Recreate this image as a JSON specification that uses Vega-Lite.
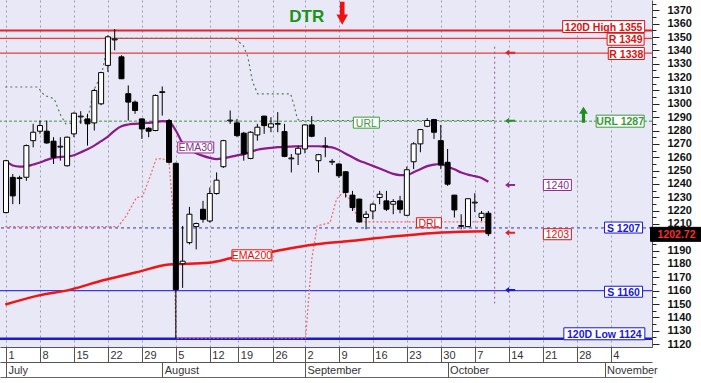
{
  "$schema": "https://vega.github.io/schema/vega-lite/v6.json",
  "width": 652,
  "height": 347,
  "autosize": {"type": "none"},
  "padding": {"left": 0, "top": 0, "right": 49, "bottom": 36},
  "background": "white",
  "config": {"view": {"fill": "#E8E8F6", "stroke": null}, "font": "Liberation Sans"},
  "datasets": {
    "candles": [
      {"i":0,"o":1218.5,"h":1258,"l":1218,"c":1257.4},
      {"i":1,"o":1244.9,"h":1247.4,"l":1224.8,"c":1231.0},
      {"i":2,"o":1244.0,"h":1246.1,"l":1224.8,"c":1244.6},
      {"i":3,"o":1245,"h":1269.5,"l":1242.3,"c":1268.7},
      {"i":4,"o":1272.4,"h":1285,"l":1267.4,"c":1278.7},
      {"i":5,"o":1279.5,"h":1287.5,"l":1277.5,"c":1283.7},
      {"i":6,"o":1279.5,"h":1287.5,"l":1270,"c":1270.7},
      {"i":7,"o":1272,"h":1275,"l":1254.9,"c":1260},
      {"i":8,"o":1267.6,"h":1275,"l":1257.4,"c":1268.2},
      {"i":9,"o":1253.6,"h":1275.5,"l":1253,"c":1275},
      {"i":10,"o":1277.5,"h":1293.5,"l":1275,"c":1293},
      {"i":11,"o":1290.2,"h":1294.5,"l":1285,"c":1290.8},
      {"i":12,"o":1288.7,"h":1292.5,"l":1268.7,"c":1285},
      {"i":13,"o":1285.7,"h":1311.3,"l":1280,"c":1310},
      {"i":14,"o":1300,"h":1324,"l":1299,"c":1323.4},
      {"i":15,"o":1328.8,"h":1351.4,"l":1323.9,"c":1350.2},
      {"i":16,"o":1347.9,"h":1356,"l":1340.1,"c":1348.5},
      {"i":17,"o":1335.2,"h":1336.4,"l":1318.5,"c":1318.8},
      {"i":18,"o":1307.6,"h":1313.8,"l":1287.5,"c":1301.3},
      {"i":19,"o":1301.3,"h":1302.5,"l":1292.5,"c":1295},
      {"i":20,"o":1288.7,"h":1289,"l":1273.7,"c":1281.2},
      {"i":21,"o":1281.7,"h":1282.5,"l":1275,"c":1279.5},
      {"i":22,"o":1280,"h":1307,"l":1279.5,"c":1306.3},
      {"i":23,"o":1308.5,"h":1313,"l":1291.2,"c":1309.1},
      {"i":24,"o":1287.5,"h":1288.7,"l":1255.5,"c":1256.2},
      {"i":25,"o":1255.4,"h":1256,"l":1124.5,"c":1160.8},
      {"i":26,"o":1180.2,"h":1208.5,"l":1162.1,"c":1182.1},
      {"i":27,"o":1196,"h":1222.8,"l":1194.7,"c":1217.3},
      {"i":28,"o":1208,"h":1211,"l":1190.9,"c":1210.3},
      {"i":29,"o":1221,"h":1227.3,"l":1211,"c":1213.5},
      {"i":30,"o":1212.2,"h":1237.3,"l":1211,"c":1232.8},
      {"i":31,"o":1232.8,"h":1248.6,"l":1232,"c":1242.8},
      {"i":32,"o":1252.9,"h":1273,"l":1252,"c":1272.4},
      {"i":33,"o":1287.2,"h":1295,"l":1285,"c":1287.8},
      {"i":34,"o":1285.7,"h":1288.7,"l":1275,"c":1276.2},
      {"i":35,"o":1278,"h":1279,"l":1257.4,"c":1262.4},
      {"i":36,"o":1259.1,"h":1279.5,"l":1258.5,"c":1278.7},
      {"i":37,"o":1276.7,"h":1285,"l":1272.4,"c":1282.5},
      {"i":38,"o":1290.8,"h":1291,"l":1277.5,"c":1283.7},
      {"i":39,"o":1282.5,"h":1290,"l":1278.7,"c":1285},
      {"i":40,"o":1284.7,"h":1293.8,"l":1278.7,"c":1285.3},
      {"i":41,"o":1279.2,"h":1285,"l":1260,"c":1260.6},
      {"i":42,"o":1258.8,"h":1262.4,"l":1248.6,"c":1259.4},
      {"i":43,"o":1262.4,"h":1268.7,"l":1254.1,"c":1266.7},
      {"i":44,"o":1266.2,"h":1284.5,"l":1263,"c":1284.2},
      {"i":45,"o":1284.2,"h":1290.8,"l":1275,"c":1275.7},
      {"i":46,"o":1257.4,"h":1262.5,"l":1248.6,"c":1261.9},
      {"i":47,"o":1267.9,"h":1275,"l":1260,"c":1268.5},
      {"i":48,"o":1256.3,"h":1258.6,"l":1254.1,"c":1256.9},
      {"i":49,"o":1254.9,"h":1255.5,"l":1244.5,"c":1246.1},
      {"i":50,"o":1249.1,"h":1249.5,"l":1229.8,"c":1233.6},
      {"i":51,"o":1231.6,"h":1234.8,"l":1219.7,"c":1222.3},
      {"i":52,"o":1228.6,"h":1229,"l":1211,"c":1211.5},
      {"i":53,"o":1214.8,"h":1219.7,"l":1206,"c":1217.3},
      {"i":54,"o":1219.7,"h":1226,"l":1213.5,"c":1224.8},
      {"i":55,"o":1229.8,"h":1234.8,"l":1224.8,"c":1232.3},
      {"i":56,"o":1227.3,"h":1234.8,"l":1219.7,"c":1221},
      {"i":57,"o":1224.8,"h":1228.6,"l":1217.3,"c":1226.8},
      {"i":58,"o":1227.3,"h":1231,"l":1218,"c":1221},
      {"i":59,"o":1216.5,"h":1253,"l":1216,"c":1250.6},
      {"i":60,"o":1256.6,"h":1271.2,"l":1251.1,"c":1270},
      {"i":61,"o":1270,"h":1281.2,"l":1263.7,"c":1280.7},
      {"i":62,"o":1283.2,"h":1289.3,"l":1282.5,"c":1287.5},
      {"i":63,"o":1288.2,"h":1288.7,"l":1273.7,"c":1278.7},
      {"i":64,"o":1272.4,"h":1284.2,"l":1251.1,"c":1254.1},
      {"i":65,"o":1256.2,"h":1266.2,"l":1238.6,"c":1239.8},
      {"i":66,"o":1231.6,"h":1231.6,"l":1214.8,"c":1220.5},
      {"i":67,"o":1208.2,"h":1217.3,"l":1206,"c":1208.8},
      {"i":68,"o":1208,"h":1229,"l":1207.5,"c":1228.9},
      {"i":69,"o":1225.7,"h":1233,"l":1219,"c":1226.3},
      {"i":70,"o":1214.8,"h":1219.7,"l":1212.2,"c":1218},
      {"i":71,"o":1218,"h":1219.7,"l":1200.9,"c":1202.72}
    ],
    "ema30": [
      {"i":-0.1,"v":1257.4},{"i":1,"v":1253.8},{"i":2,"v":1253.0},{"i":3,"v":1253.2},{"i":4,"v":1254.5},
      {"i":5,"v":1256},{"i":6,"v":1258},{"i":7,"v":1259.5},{"i":8,"v":1260.2},{"i":9,"v":1260.5},
      {"i":10,"v":1261.5},{"i":11,"v":1263.7},{"i":12,"v":1266},{"i":13,"v":1268.7},{"i":14,"v":1272},
      {"i":15,"v":1275.5},{"i":16,"v":1280},{"i":17,"v":1283.2},{"i":18,"v":1284.5},{"i":19,"v":1285},
      {"i":20,"v":1285.3},{"i":21,"v":1285.8},{"i":22,"v":1286.3},{"i":23,"v":1287},{"i":24,"v":1286.5},
      {"i":25,"v":1280},{"i":26,"v":1270.5},{"i":27,"v":1266},{"i":28,"v":1263},{"i":29,"v":1261},
      {"i":30,"v":1259.5},{"i":31,"v":1258.6},{"i":32,"v":1259.2},{"i":33,"v":1260.3},{"i":34,"v":1261.4},
      {"i":35,"v":1262.3},{"i":36,"v":1264},{"i":37,"v":1265.6},{"i":38,"v":1266.5},{"i":39,"v":1267},
      {"i":40,"v":1267.5},{"i":41,"v":1267.8},{"i":42,"v":1268},{"i":43,"v":1268.2},{"i":44,"v":1268.2},
      {"i":45,"v":1268.2},{"i":46,"v":1268.2},{"i":47,"v":1267.9},{"i":48,"v":1267.4},{"i":49,"v":1265.5},
      {"i":50,"v":1262.6},{"i":51,"v":1260},{"i":52,"v":1257.4},{"i":53,"v":1255.5},{"i":54,"v":1253.5},
      {"i":55,"v":1251.5},{"i":56,"v":1249.5},{"i":57,"v":1247.5},{"i":58,"v":1246.6},{"i":59,"v":1246.6},
      {"i":60,"v":1248.8},{"i":61,"v":1251},{"i":62,"v":1253.3},{"i":63,"v":1254.5},{"i":64,"v":1254.9},
      {"i":65,"v":1253},{"i":66,"v":1251},{"i":67,"v":1248.5},{"i":68,"v":1247},{"i":69,"v":1245.8},
      {"i":70,"v":1244.5},{"i":71,"v":1241.6}
    ],
    "ema200": [
      {"i":-0.1,"v":1149.6},{"i":4.7,"v":1156.3},{"i":9.5,"v":1160.8},{"i":14.3,"v":1167.8},{"i":19.2,"v":1173.8},
      {"i":24,"v":1179.6},{"i":29.8,"v":1180.9},{"i":33.7,"v":1185},{"i":38.5,"v":1188.5},{"i":44.3,"v":1193.9},
      {"i":50.6,"v":1197.2},{"i":57.8,"v":1200.9},{"i":64.1,"v":1203.5},{"i":70.9,"v":1204.5}
    ],
    "upper": [
      {"i":-0.1,"v":1312.6},{"i":4.68,"v":1312.6},{"i":5.65,"v":1306.3},{"i":7.1,"v":1303.8},{"i":8.07,"v":1291.2},
      {"i":8.8,"v":1285},{"i":11.4,"v":1286.5},{"i":12.2,"v":1292.5},{"i":12.9,"v":1310},{"i":14.1,"v":1322.6},
      {"i":14.6,"v":1335.2},{"i":14.93,"v":1349},{"i":33.6,"v":1349},{"i":34.9,"v":1343.9},{"i":35.6,"v":1335.2},
      {"i":36.3,"v":1316.4},{"i":37.05,"v":1307.5},{"i":41.9,"v":1307.5},{"i":42.4,"v":1298.8},{"i":42.9,"v":1288.7},
      {"i":43.2,"v":1287.5},{"i":71.9,"v":1287.5}
    ],
    "lower": [
      {"i":-0.1,"v":1208},{"i":16.5,"v":1208},{"i":17.7,"v":1216},{"i":19.2,"v":1229.8},{"i":20.1,"v":1230.6},
      {"i":21.1,"v":1244},{"i":22.1,"v":1258.6},{"i":23.0,"v":1259.1},{"i":24.0,"v":1256},{"i":24.5,"v":1225},
      {"i":24.8,"v":1185},{"i":25.0,"v":1124.5},{"i":44.1,"v":1124.5},{"i":45.0,"v":1183.4},{"i":45.8,"v":1208.5},
      {"i":47.7,"v":1211},{"i":48.65,"v":1228.6},{"i":49.6,"v":1233.6},{"i":50.6,"v":1228.6},{"i":52.0,"v":1211.5},
      {"i":71.6,"v":1211.5}
    ],
    "labels": [
      {"label":"120D High 1355","i":87.97,"p":1357.9},
      {"label":"R 1349","i":91.2,"p":1348.4},
      {"label":"R 1338","i":91.3,"p":1337.7},
      {"label":"URL 1287","i":90.4,"p":1287.0},
      {"label":"S 1207","i":90.9,"p":1207.3},
      {"label":"S 1160","i":90.9,"p":1159.2},
      {"label":"120D Low 1124","i":88.07,"p":1127.7},
      {"label":"EMA30","i":27.93,"p":1267.3},
      {"label":"EMA200","i":36.2,"p":1186.5},
      {"label":"URL","i":53.04,"p":1285.9},
      {"label":"DRL","i":62.25,"p":1210.9},
      {"label":"1240","i":81.16,"p":1239.2},
      {"label":"1203","i":81.16,"p":1202.3},
      {"label":"1202.72","i":98.7,"p":1202.2}
    ],
    "arrows": [
      {"name":"R 1338","i":74.2,"p":1338.3},
      {"name":"URL 1287","i":74.2,"p":1287.4},
      {"name":"EMA30 1240","i":74.2,"p":1239.2},
      {"name":"EMA200 1203","i":74.2,"p":1203.4},
      {"name":"S 1160","i":74.2,"p":1160.5}
    ]
  },
  "resolve": {
    "scale": {"color": "independent", "shape": "independent", "stroke": "independent"},
    "axis": {"x": "independent", "y": "independent"}
  },
  "layer": [
    {
      "data": {"values": [{"p": 1355}]},
      "mark": {"type": "rule", "color": "#E8202A", "strokeWidth": 2},
      "encoding": {
        "y": {"field": "p", "type": "quantitative",
          "scale": {"domain": [1117.8, 1377.8], "nice": false, "zero": false},
          "axis": {"orient": "right", "values": [1120,1130,1140,1150,1160,1170,1180,1190,1200,1210,1220,1230,1240,1250,1260,1270,1280,1290,1300,1310,1320,1330,1340,1350,1360,1370],
            "format": "d", "labelExpr": "datum.value === 1200 ? '' : datum.label",
            "title": null, "grid": false, "tickSize": 7, "labelPadding": 8, "tickColor": "#222", "domainColor": "#555",
            "labelFontWeight": "bold", "labelFontSize": 11, "labelColor": "#111", "labelOverlap": false, "labelFlush": false, "labelFont": "Liberation Sans"}}
      }
    },
    {
      "data": {"values": [{"p": 1349}, {"p": 1338}]},
      "mark": {"type": "rule", "color": "#F03A3A", "strokeWidth": 1.2},
      "encoding": {"y": {"field": "p", "type": "quantitative", "scale": {"domain": [1117.8, 1377.8], "nice": false, "zero": false},
        "axis": {"orient": "right", "values": [1125,1135,1145,1155,1165,1175,1185,1195,1205,1215,1225,1235,1245,1255,1265,1275,1285,1295,1305,1315,1325,1335,1345,1355,1365,1375],
          "labels": false, "domain": false, "grid": false, "title": null, "tickSize": 4, "tickColor": "#222"}}}
    },
    {
      "data": {"values": [{"p": 1287}]},
      "mark": {"type": "rule", "color": "#3A9A3A", "strokeWidth": 1, "strokeDash": [3, 2]},
      "encoding": {"y": {"field": "p", "type": "quantitative", "scale": {"domain": [1117.8, 1377.8], "nice": false, "zero": false}, "axis": null}}
    },
    {
      "data": {"values": [{"p": 1207}]},
      "mark": {"type": "rule", "color": "#3030D8", "strokeWidth": 1, "strokeDash": [3, 3]},
      "encoding": {"y": {"field": "p", "type": "quantitative", "scale": {"domain": [1117.8, 1377.8], "nice": false, "zero": false}, "axis": null}}
    },
    {
      "data": {"values": [{"p": 1160}]},
      "mark": {"type": "rule", "color": "#3A3AE8", "strokeWidth": 1.2},
      "encoding": {"y": {"field": "p", "type": "quantitative", "scale": {"domain": [1117.8, 1377.8], "nice": false, "zero": false}, "axis": null}}
    },
    {
      "data": {"values": [{"p": 1124}]},
      "mark": {"type": "rule", "color": "#1A1AD0", "strokeWidth": 2.5},
      "encoding": {"y": {"field": "p", "type": "quantitative", "scale": {"domain": [1117.8, 1377.8], "nice": false, "zero": false}, "axis": null}}
    },
    {
      "data": {"name": "lower"},
      "mark": {"type": "line", "color": "#F06A6A", "strokeWidth": 1.2, "strokeDash": [2, 2]},
      "encoding": {
        "x": {"field": "i", "type": "quantitative", "scale": {"domain": [-0.145, 94.35], "nice": false, "zero": false},
          "axis": {"orient": "bottom", "offset": 30, "values": [], "domain": true, "domainColor": "#666", "ticks": false, "labels": false, "grid": false, "title": null}},
        "y": {"field": "v", "type": "quantitative", "scale": {"domain": [1117.8, 1377.8], "nice": false, "zero": false}, "axis": null}
      }
    },
    {
      "data": {"name": "upper"},
      "mark": {"type": "line", "color": "#5A7A5A", "strokeWidth": 1.2, "strokeDash": [2, 3]},
      "encoding": {
        "x": {"field": "i", "type": "quantitative", "scale": {"domain": [-0.145, 94.35], "nice": false, "zero": false}, "axis": null},
        "y": {"field": "v", "type": "quantitative", "scale": {"domain": [1117.8, 1377.8], "nice": false, "zero": false}, "axis": null}
      }
    },
    {
      "data": {"values": [{"i": 71.93, "p": 1342.8, "p2": 1150.5}]},
      "mark": {"type": "rule", "color": "#9A4A9A", "strokeWidth": 1, "strokeDash": [2, 3]},
      "encoding": {
        "x": {"field": "i", "type": "quantitative", "scale": {"domain": [-0.145, 94.35], "nice": false, "zero": false}, "axis": null},
        "y": {"field": "p", "type": "quantitative", "scale": {"domain": [1117.8, 1377.8], "nice": false, "zero": false}, "axis": null},
        "y2": {"field": "p2"}
      }
    },
    {
      "data": {"name": "ema200"},
      "mark": {"type": "line", "color": "#F01414", "strokeWidth": 2.5, "interpolate": "monotone"},
      "encoding": {
        "x": {"field": "i", "type": "quantitative", "scale": {"domain": [-0.145, 94.35], "nice": false, "zero": false}, "axis": null},
        "y": {"field": "v", "type": "quantitative", "scale": {"domain": [1117.8, 1377.8], "nice": false, "zero": false}, "axis": null}
      }
    },
    {
      "data": {"name": "ema30"},
      "mark": {"type": "line", "color": "#8B1A8B", "strokeWidth": 2.2, "interpolate": "monotone"},
      "encoding": {
        "x": {"field": "i", "type": "quantitative", "scale": {"domain": [-0.145, 94.35], "nice": false, "zero": false}, "axis": null},
        "y": {"field": "v", "type": "quantitative", "scale": {"domain": [1117.8, 1377.8], "nice": false, "zero": false}, "axis": null}
      }
    },
    {
      "data": {"name": "candles"},
      "mark": {"type": "rule", "color": "#000", "strokeWidth": 1},
      "encoding": {
        "x": {"field": "i", "type": "quantitative", "scale": {"domain": [-0.145, 94.35], "nice": false, "zero": false},
          "axis": {"orient": "bottom", "title": null,
            "values": [0,5,10,15,20,25,30,34.2,39.3,44,49,54,59,64,69,74,79,84,89],
            "labelExpr": "['1','8','15','22','29','5','12','19','26','2','9','16','23','30','7','14','21','28','4'][indexof([0,5,10,15,20,25,30,34.2,39.3,44,49,54,59,64,69,74,79,84,89], datum.value)]",
            "grid": true, "gridDash": [2, 3], "gridColor": "#9C9CAE", "gridWidth": 1,
            "tickSize": 15, "tickColor": "#555", "domainColor": "#555",
            "labelAlign": "left", "labelBaseline": "top", "labelPadding": -13, "labelOffset": 2,
            "labelFontSize": 11, "labelColor": "#333", "labelFont": "Liberation Sans", "labelOverlap": false, "labelFlush": false}},
        "y": {"field": "l", "type": "quantitative", "scale": {"domain": [1117.8, 1377.8], "nice": false, "zero": false}, "axis": null},
        "y2": {"field": "h"}
      }
    },
    {
      "data": {"name": "candles"},
      "mark": {"type": "bar", "width": 5, "stroke": "#000", "strokeWidth": 1},
      "encoding": {
        "x": {"field": "i", "type": "quantitative", "scale": {"domain": [-0.145, 94.35], "nice": false, "zero": false},
          "axis": {"orient": "bottom", "offset": 15, "title": null,
            "values": [0, 23, 44, 65, 88.1],
            "labelExpr": "['July','August','September','October','November'][indexof([0,23,44,65,88.1], datum.value)]",
            "grid": false, "tickSize": 15, "tickColor": "#555", "domainColor": "#555",
            "labelAlign": "left", "labelBaseline": "top", "labelPadding": -13, "labelOffset": 2,
            "labelFontSize": 11, "labelColor": "#333", "labelFont": "Liberation Sans", "labelOverlap": false, "labelFlush": false}},
        "y": {"field": "o", "type": "quantitative", "scale": {"domain": [1117.8, 1377.8], "nice": false, "zero": false}, "axis": null},
        "y2": {"field": "c"},
        "fill": {"condition": {"test": "datum.c >= datum.o", "value": "#FFFFFF"}, "value": "#000000"}
      }
    },
    {
      "data": {"name": "labels"},
      "mark": {"type": "point", "filled": true, "size": 10000, "strokeWidth": 1, "opacity": 1},
      "encoding": {
        "x": {"field": "i", "type": "quantitative", "scale": {"domain": [-0.145, 94.35], "nice": false, "zero": false}, "axis": null},
        "y": {"field": "p", "type": "quantitative", "scale": {"domain": [1117.8, 1377.8], "nice": false, "zero": false}, "axis": null},
        "fill": {"condition": {"test": "datum.label === '1202.72'", "value": "#000000"}, "value": "#FFFFFF"},
        "stroke": {"field": "label", "type": "nominal", "legend": null,
          "scale": {"domain": ["120D High 1355","R 1349","R 1338","URL 1287","S 1207","S 1160","120D Low 1124","EMA30","EMA200","URL","DRL","1240","1203","1202.72"],
            "range": ["#E01010","#E01010","#E01010","#3A9A3A","#1818D8","#1818D8","#1818D8","#8E2A8E","#E01010","#3A9A3A","#E01010","#8E2A8E","#E01010","#000000"]}},
        "shape": {"field": "label", "type": "nominal", "legend": null,
          "scale": {"domain": ["120D High 1355","R 1349","R 1338","URL 1287","S 1207","S 1160","120D Low 1124","EMA30","EMA200","URL","DRL","1240","1203","1202.72"],
            "range": [
              "M-0.82,-0.12H0.82V0.12H-0.82Z",
              "M-0.37,-0.12H0.37V0.12H-0.37Z",
              "M-0.36,-0.12H0.36V0.12H-0.36Z",
              "M-0.48,-0.12H0.48V0.12H-0.48Z",
              "M-0.38,-0.11H0.38V0.11H-0.38Z",
              "M-0.38,-0.11H0.38V0.11H-0.38Z",
              "M-0.81,-0.12H0.81V0.12H-0.81Z",
              "M-0.36,-0.11H0.36V0.11H-0.36Z",
              "M-0.40,-0.11H0.40V0.11H-0.40Z",
              "M-0.26,-0.11H0.26V0.11H-0.26Z",
              "M-0.25,-0.10H0.25V0.10H-0.25Z",
              "M-0.28,-0.11H0.28V0.11H-0.28Z",
              "M-0.28,-0.11H0.28V0.11H-0.28Z",
              "M-0.52,-0.14H0.52V0.14H-0.52Z"]}}
      }
    },
    {
      "data": {"name": "labels"},
      "transform": [{"filter": "indexof(['EMA30','EMA200','URL','DRL','1240','1203'], datum.label) < 0"}],
      "mark": {"type": "text", "fontSize": 10.5, "fontWeight": "bold", "align": "center", "baseline": "middle", "dy": 1, "font": "Liberation Sans"},
      "encoding": {
        "x": {"field": "i", "type": "quantitative", "scale": {"domain": [-0.145, 94.35], "nice": false, "zero": false}, "axis": null},
        "y": {"field": "p", "type": "quantitative", "scale": {"domain": [1117.8, 1377.8], "nice": false, "zero": false}, "axis": null},
        "text": {"field": "label"},
        "color": {"field": "label", "type": "nominal", "legend": null,
          "scale": {"domain": ["120D High 1355","R 1349","R 1338","URL 1287","S 1207","S 1160","120D Low 1124","1202.72"],
            "range": ["#E01010","#E01010","#E01010","#3A9A3A","#1818D8","#1818D8","#1818D8","#FF2A2A"]}}
      }
    },
    {
      "data": {"name": "labels"},
      "transform": [{"filter": "indexof(['EMA30','EMA200','URL','DRL','1240','1203'], datum.label) >= 0"}],
      "mark": {"type": "text", "fontSize": 10.5, "align": "center", "baseline": "middle", "dy": 1, "font": "Liberation Sans"},
      "encoding": {
        "x": {"field": "i", "type": "quantitative", "scale": {"domain": [-0.145, 94.35], "nice": false, "zero": false}, "axis": null},
        "y": {"field": "p", "type": "quantitative", "scale": {"domain": [1117.8, 1377.8], "nice": false, "zero": false}, "axis": null},
        "text": {"field": "label"},
        "color": {"field": "label", "type": "nominal", "legend": null,
          "scale": {"domain": ["EMA30","EMA200","URL","DRL","1240","1203"],
            "range": ["#8E2A8E","#E01010","#3A9A3A","#E01010","#8E2A8E","#E01010"]}}
      }
    },
    {
      "data": {"name": "arrows"},
      "mark": {"type": "point", "filled": true, "opacity": 1, "size": 100,
        "shape": "M-1,0L-0.2,-0.6L-0.2,-0.2L1,-0.2L1,0.2L-0.2,0.2L-0.2,0.6Z"},
      "encoding": {
        "x": {"field": "i", "type": "quantitative", "scale": {"domain": [-0.145, 94.35], "nice": false, "zero": false}, "axis": null},
        "y": {"field": "p", "type": "quantitative", "scale": {"domain": [1117.8, 1377.8], "nice": false, "zero": false}, "axis": null},
        "color": {"field": "name", "type": "nominal", "legend": null,
          "scale": {"domain": ["R 1338","URL 1287","EMA30 1240","EMA200 1203","S 1160"],
            "range": ["#E82020","#2E8B2E","#8E2A8E","#E82020","#1818D8"]}}
      }
    },
    {
      "data": {"values": [{"i": 49.49, "p": 1367.8}]},
      "mark": {"type": "point", "filled": true, "opacity": 1, "size": 529, "color": "#F01010",
        "shape": "M-0.2,-1L0.2,-1L0.2,0.1L0.5,0.1L0,1L-0.5,0.1L-0.2,0.1Z"},
      "encoding": {
        "x": {"field": "i", "type": "quantitative", "scale": {"domain": [-0.145, 94.35], "nice": false, "zero": false}, "axis": null},
        "y": {"field": "p", "type": "quantitative", "scale": {"domain": [1117.8, 1377.8], "nice": false, "zero": false}, "axis": null}
      }
    },
    {
      "data": {"values": [{"i": 85.0, "p": 1291.9}]},
      "mark": {"type": "point", "filled": true, "opacity": 1, "size": 256, "color": "#1E8C1E",
        "shape": "M-0.2,1L0.2,1L0.2,-0.1L0.55,-0.1L0,-1L-0.55,-0.1L-0.2,-0.1Z"},
      "encoding": {
        "x": {"field": "i", "type": "quantitative", "scale": {"domain": [-0.145, 94.35], "nice": false, "zero": false}, "axis": null},
        "y": {"field": "p", "type": "quantitative", "scale": {"domain": [1117.8, 1377.8], "nice": false, "zero": false}, "axis": null}
      }
    },
    {
      "data": {"values": [{"i": 44.27, "p": 1365.8, "t": "DTR"}]},
      "mark": {"type": "text", "fontSize": 17, "fontWeight": "bold", "color": "#1A941A", "align": "center", "baseline": "middle", "dy": 1, "font": "Liberation Sans"},
      "encoding": {
        "x": {"field": "i", "type": "quantitative", "scale": {"domain": [-0.145, 94.35], "nice": false, "zero": false}, "axis": null},
        "y": {"field": "p", "type": "quantitative", "scale": {"domain": [1117.8, 1377.8], "nice": false, "zero": false}, "axis": null},
        "text": {"field": "t"}
      }
    }
  ]
}
